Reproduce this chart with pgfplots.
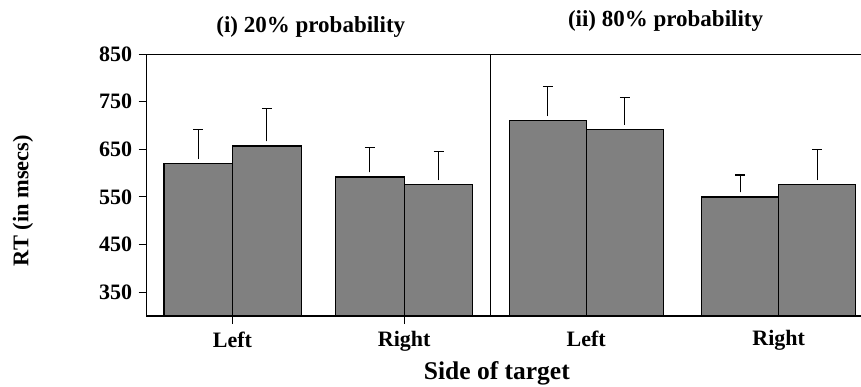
\documentclass[border=0pt]{standalone}
\usepackage{fontspec}
\setmainfont{Liberation Serif}
\usepackage{pgfplots}
\pgfplotsset{compat=1.18}
\definecolor{barfill}{RGB}{128,128,128}
\pgfplotsset{
  panel/.style={
    scale only axis,
    height=262pt,
    ymin=300, ymax=850,
    xmin=0.5, xmax=2.5,
    xtick={1,2},
    xticklabels={Left,Right},
    ybar, bar width=0.4,
    axis line style={line width=1pt},
    tick style={black, line width=1pt},
    major tick length=8pt,
    tick align=outside,
    xtick pos=bottom, ytick pos=left,
    x tick label style={font=\fontsize{22}{26}\selectfont\bfseries, yshift=-4pt},
    y tick label style={font=\fontsize{22}{26}\selectfont\bfseries, xshift=-3pt},
    title style={font=\fontsize{23}{27}\selectfont\bfseries, anchor=base},
    after end axis/.code={\draw[line width=2pt] (rel axis cs:0,0) -- (rel axis cs:1,0);},
  },
  bars/.style={fill=barfill, draw=black, line width=1.3pt,
    error bars/y dir=plus, error bars/y explicit,
    error bars/error bar style={line width=1.2pt, black, shorten <=4.5pt},
    error bars/error mark options={rotate=90, line width=1.2pt, mark size=5pt, black}},
}
\begin{document}
\begin{tikzpicture}
\begin{axis}[panel, width=343.3pt, at={(146.7pt,70pt)}, anchor=south west,
  ytick={350,450,550,650,750,850},
  yticklabels={350,450,550,650,750,850},
  title={(i) 20\% probability},
  title style={at={(axis description cs:0.478,1)}, yshift=15.3pt},
  ylabel={RT (in msecs)},
  ylabel style={font=\fontsize{22.4}{26}\selectfont\bfseries, at={(axis description cs:-0.36,0.44)}, anchor=center, rotate=0},
  xlabel={Side of target},
  xlabel style={font=\fontsize{25.5}{30}\selectfont\bfseries, at={(axis description cs:1.02,0)}, anchor=base, yshift=-63pt},
]
\addplot[bar shift=-0.2, bars] coordinates {(1,620) +- (0,71) (2,592) +- (0,61)};
\addplot[bar shift=0.2, bars] coordinates {(1,657) +- (0,78) (2,576) +- (0,69)};
\end{axis}
\begin{axis}[panel, width=385pt, at={(490pt,70pt)}, anchor=south west,
  ytick=\empty,
  major x tick style={draw=none},
  x tick label style={yshift=1pt},
  title={(ii) 80\% probability},
  title style={at={(axis description cs:0.456,1)}, yshift=22pt},
]
\addplot[bar shift=-0.2, bars] coordinates {(1,710) +- (0,71) (2,550) +- (0,46)};
\addplot[bar shift=0.2, bars] coordinates {(1,692) +- (0,66) (2,576) +- (0,73)};
\end{axis}
\pgfresetboundingbox
\path[use as bounding box] (0pt,0pt) rectangle (861pt,386pt);
\end{tikzpicture}
\end{document}
